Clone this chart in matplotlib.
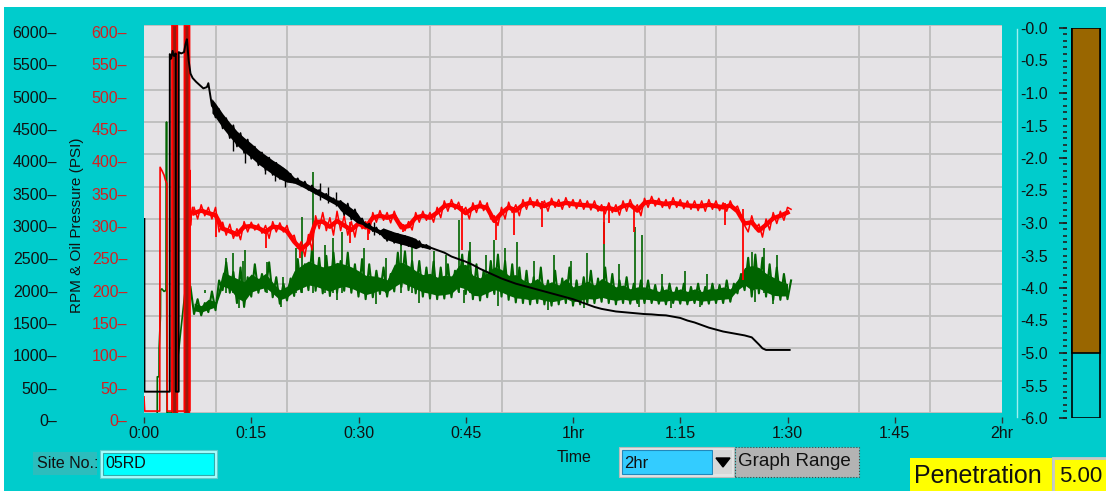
import matplotlib
matplotlib.use("Agg")
import matplotlib.pyplot as plt
from matplotlib.patches import Rectangle, Polygon
from matplotlib.lines import Line2D
from matplotlib.ticker import MultipleLocator
from matplotlib.transforms import ScaledTranslation

plt.rcParams['font.family'] = ['Liberation Sans', 'DejaVu Sans']

# ---------------- data ----------------
time_tick_min = [0, 15, 30, 45, 60, 75, 90, 105, 120]
time_tick_labels = ["0:00", "0:15", "0:30", "0:45", "1hr", "1:15", "1:30", "1:45", "2hr"]
rpm_ticks = [0, 500, 1000, 1500, 2000, 2500, 3000, 3500, 4000, 4500, 5000, 5500, 6000]
rpm_tick_labels = ["0", "500", "1000", "1500", "2000", "2500", "3000", "3500",
                   "4000", "4500", "5000", "5500", "6000"]
psi_ticks = [0, 50, 100, 150, 200, 250, 300, 350, 400, 450, 500, 550, 600]
psi_tick_labels = ["0", "50", "100", "150", "200", "250", "300", "350",
                   "400", "450", "500", "550", "600"]
depth_ticks = [0.0, -0.5, -1.0, -1.5, -2.0, -2.5, -3.0, -3.5, -4.0, -4.5, -5.0, -5.5, -6.0]
depth_tick_labels = ["-0.0", "-0.5", "-1.0", "-1.5", "-2.0", "-2.5", "-3.0", "-3.5",
                     "-4.0", "-4.5", "-5.0", "-5.5", "-6.0"]
depth_major = [0, -1, -2, -3, -4, -5, -6]
penetration = 5.00
site_no = "05RD"
graph_range = "2hr"

# ---- black trace (RPM scale), time in minutes
black_t = [0.05, 0.06, 3.6, 3.61, 3.8, 4.0, 4.2, 4.45, 4.46, 4.85, 4.86, 5.2, 5.6, 5.8,
           6.0, 6.1, 6.25, 6.5, 6.8, 7.3, 7.8, 8.3, 8.8, 9.0, 9.5,
           10, 11, 12, 13, 14, 15, 16, 17, 18, 19, 20, 21, 22, 23, 24, 25, 26, 27, 28,
           29, 30, 31, 32, 33, 34, 35, 36, 37, 38, 39, 40, 41, 42, 43, 44, 45, 46, 47,
           48, 49, 50, 51, 52, 53, 54, 55, 56, 57, 58, 59, 60, 61, 62, 63, 64, 65, 66,
           67, 68, 69, 70, 71, 72, 73, 74, 75, 76, 77, 78, 79, 80, 81, 82, 83, 84, 85,
           86, 86.5, 87, 90.3]
black_v = [3000, 330, 330, 5550, 5480, 5600, 5520, 5560, 330, 330, 5580, 5560, 5580, 5700,
           5780, 5650, 5450, 5250, 5180, 5120, 5070, 5020, 5040, 5100, 4750,
           4680, 4520, 4380, 4250, 4150, 4060, 3960, 3880, 3800, 3730, 3660, 3600, 3550,
           3490, 3430, 3370, 3310, 3250, 3170, 3090, 3000, 2910, 2850, 2800, 2760, 2720,
           2690, 2660, 2620, 2590, 2560, 2520, 2480, 2420, 2380, 2340, 2290, 2230, 2180,
           2130, 2080, 2040, 2000, 1970, 1940, 1910, 1880, 1850, 1820, 1790, 1760, 1720,
           1680, 1640, 1610, 1590, 1570, 1560, 1550, 1540, 1530, 1525, 1515, 1510, 1490,
           1470, 1430, 1400, 1360, 1320, 1290, 1260, 1240, 1220, 1200, 1170,
           1060, 1000, 975, 975]
# dense core of the noisy black section
black_band_t = [9.5, 10, 11, 12, 13, 14, 15, 16, 17, 18, 19, 20, 21, 22, 23, 24, 25, 26,
                27, 27.5, 28, 29, 29.8, 30.5, 31, 32, 33, 33.5, 34, 35, 36, 37, 38, 38.6,
                39, 40]
black_band_hi = [4860, 4790, 4630, 4490, 4360, 4260, 4170, 4070, 3990, 3910, 3840, 3760,
                 3645, 3595, 3535, 3475, 3415, 3355, 3295, 3290, 3250, 3170, 3100, 2985,
                 2945, 2885, 2835, 2860, 2840, 2800, 2770, 2740, 2700, 2630, 2620, 2590]
black_band_lo = [4640, 4570, 4410, 4270, 4140, 4040, 3950, 3850, 3770, 3690, 3620, 3570,
                 3555, 3505, 3445, 3385, 3325, 3265, 3205, 3130, 3090, 3010, 2940, 2915,
                 2875, 2815, 2765, 2700, 2680, 2640, 2610, 2580, 2540, 2570, 2560, 2530]
# noise excursions of black trace, sampled every 0.5 min from 9.5 min
black_noise_start, black_noise_step = 9.5, 0.5
black_noise_v = [4830, 4570, 4700, 4400, 4560, 4250, 4450, 4120, 4330, 4020,
                 4230, 3930, 4120, 3830, 4030, 3750, 3950, 3680, 3870, 3620,
                 3780, 3580, 3700, 3560, 3630, 3510, 3580, 3450, 3520, 3390,
                 3450, 3340, 3390, 3280, 3320, 3210, 3280, 3060, 3240, 2990,
                 3150, 2960, 3010, 2880, 2930, 2810, 2870, 2760, 2840, 2660,
                 2800, 2630, 2770, 2600, 2740, 2580, 2700, 2550, 2660, 2560,
                 2600, 2540]
black_spike_t = [12.5, 14.1, 16.9, 18.3, 19.7, 24.6, 25.8, 26.9, 32.2]
black_spike_lo = [4050, 3870, 3700, 3580, 3500, 3300, 3250, 3200, 2760]
black_spike_hi = [4400, 4150, 3950, 3850, 3750, 3560, 3500, 3420, 2960]

# ---- green trace (RPM scale)
green_early_t = [1.85, 1.86, 2.1, 2.11, 2.3, 2.32, 2.5, 2.8, 3.1, 3.15, 3.17, 3.22, 3.9,
                 6.35, 6.4]
green_early_v = [0, 560, 560, 1000, 1500, 1900, 1920, 1880, 1900, 4500, 1900, 0, 0,
                 2500, 1950]
# dense core of the green band, one value per minute from 7 min
green_core_start = 7
green_core_lo = [1580, 1560, 1600, 1640, 1960, 1920, 1780, 1720, 1870, 1910,
                 1940, 1850, 1750, 1790, 1880, 1930, 1980, 1960, 1920, 1880,
                 1930, 1960, 1930, 1880, 1830, 1860, 1900, 1870, 1950, 2020,
                 1970, 1920, 1870, 1850, 1820, 1830, 1850, 1950, 1920, 1820,
                 1810, 1860, 1910, 1870, 1820, 1780, 1770, 1750, 1770, 1740,
                 1720, 1740, 1770, 1720, 1740, 1770, 1760, 1790, 1760, 1740,
                 1760, 1740, 1760, 1760, 1750, 1730, 1730, 1750, 1740, 1730,
                 1750, 1730, 1740, 1750, 1760, 1770, 1900, 1980, 1900, 1930,
                 1870, 1820, 1810, 1810]
green_core_hi = [1700, 1660, 1760, 1720, 2180, 2130, 2080, 2030, 2150, 2080,
                 2160, 2020, 1900, 1960, 2200, 2280, 2350, 2300, 2260, 2280,
                 2330, 2300, 2260, 2200, 2130, 2120, 2100, 2060, 2300, 2330,
                 2280, 2200, 2140, 2160, 2100, 2130, 2120, 2280, 2300, 2130,
                 2090, 2170, 2260, 2220, 2130, 2140, 2060, 2010, 2080, 1980,
                 2030, 1980, 2080, 1950, 1980, 2040, 1980, 2080, 2020, 1950,
                 1980, 1920, 1950, 1950, 1920, 1880, 1920, 1880, 1920, 1880,
                 1920, 1880, 1920, 1920, 1950, 1920, 2060, 2250, 2280, 2250,
                 2160, 2100, 2040, 2000]
# noise excursions of green trace, sampled every 0.5 min from 6.5 min
green_start, green_step = 6.5, 0.5
green_v = [1950, 1530, 1760, 1510, 1700, 1560, 1880, 1590, 2050, 1900,
           2330, 1860, 2180, 1700, 2250, 1640, 2100, 1800, 2300, 1860,
           2150, 1880, 2330, 1790, 2100, 1690, 2000, 1740, 2080, 1810,
           2380, 1870, 2300, 1900, 2550, 1890, 2400, 1850, 2430, 1810,
           2480, 1860, 2350, 1890, 2480, 1860, 2300, 1800, 2380, 1760,
           2300, 1790, 2200, 1840, 2250, 1800, 2150, 1880, 2480, 1950,
           2500, 1900, 2350, 1850, 2350, 1800, 2250, 1770, 2340, 1760,
           2250, 1770, 2300, 1790, 2200, 1880, 2450, 1840, 2500, 1760,
           2300, 1740, 2200, 1790, 2350, 1840, 2450, 1800, 2350, 1750,
           2300, 1710, 2250, 1700, 2200, 1680, 2100, 1700, 2250, 1680,
           2050, 1660, 2200, 1680, 2080, 1700, 2250, 1660, 2050, 1680,
           2100, 1700, 2200, 1700, 2080, 1720, 2250, 1700, 2150, 1680,
           2050, 1700, 2100, 1690, 2000, 1700, 2050, 1700, 2050, 1700,
           1980, 1690, 1950, 1680, 2000, 1700, 1940, 1690, 2000, 1680,
           1950, 1700, 2000, 1680, 1950, 1690, 2000, 1700, 1980, 1700,
           2050, 1720, 2000, 1850, 2150, 1900, 2400, 1800, 2450, 1850,
           2400, 1800, 2300, 1750, 2250, 1750, 2150, 1760, 2050]
green_spike_t = [8.6, 11.4, 12.4, 13.8, 14.1, 17.2, 19.5, 21.3, 22.1, 23.6, 25.3, 26.5,
                 27.7, 30.7, 33.8, 36.0, 37.5, 40.6, 42.3, 44.0, 45.6, 47.8, 49.0, 50.5,
                 52.2, 54.5, 57.3, 59.7, 62.0, 64.3, 66.5, 68.7, 69.6, 72.5, 75.6, 78.8,
                 85.0, 86.7, 88.6]
green_spike_hi = [1900, 2400, 2470, 2350, 2520, 2330, 2100, 2550, 3030, 3720, 2600, 2700,
                  2800, 2550, 2400, 2630, 2600, 2500, 2450, 2980, 2650, 2450, 2670, 2550,
                  2650, 2350, 2450, 2350, 2470, 2950, 2300, 2880, 2750, 2150, 2200, 2150,
                  2490, 2550, 2450]
green_dip_t = [13.3, 19.2, 27.0, 32.5, 38.4, 44.8, 49.5, 56.5, 61.5, 69.3, 73.7, 77.8,
               85.4, 88.0]
green_dip_lo = [1620, 1640, 1750, 1680, 1700, 1700, 1650, 1600, 1620, 1640, 1630, 1640,
                1720, 1680]

# ---- red trace (oil pressure, PSI)
red_early_t = [0.0, 0.1, 2.2, 2.25, 2.5, 2.8, 3.0, 3.2, 3.25, 3.9, 3.92, 4.6, 4.62, 5.65,
               5.67, 6.35, 6.37, 6.42, 6.5, 6.6, 6.8, 7.0]
red_early_v = [25, 3, 3, 380, 375, 368, 360, 355, 3, 3, 640, 640, 3, 3, 640, 640, 3, 375,
               290, 305, 318, 309]
# central level, one value per minute from 7 min
red_mid_start = 7
red_mid = [309, 313, 309, 306, 285, 281, 276, 288, 289, 286,
           280, 288, 287, 281, 265, 253, 263, 295, 296, 288,
           297, 290, 283, 293, 287, 302, 305, 302, 305, 287,
           289, 302, 305, 302, 310, 320, 322, 318, 309, 317,
           320, 317, 297, 309, 318, 313, 322, 325, 323, 320,
           325, 322, 325, 323, 322, 321, 320, 315, 317, 314,
           320, 322, 313, 325, 327, 325, 323, 325, 323, 321,
           320, 320, 322, 320, 318, 321, 312, 293, 295, 282,
           291, 301, 305, 310]
# noise excursions, sampled every 0.5 min from 7 min
red_start, red_step = 7.0, 0.5
red_v = [318, 300, 322, 305, 318, 300, 318, 280, 295, 275,
         292, 270, 285, 268, 296, 280, 295, 283, 292, 278,
         290, 270, 296, 280, 294, 280, 290, 270, 275, 255,
         265, 242, 276, 252, 305, 285, 310, 282, 302, 275,
         312, 282, 305, 275, 296, 272, 302, 285, 296, 278,
         310, 295, 313, 298, 310, 294, 312, 296, 293, 282,
         296, 283, 310, 295, 312, 298, 310, 295, 318, 302,
         328, 312, 330, 315, 326, 310, 318, 300, 325, 310,
         328, 313, 325, 300, 305, 290, 318, 300, 326, 310,
         322, 305, 330, 315, 333, 318, 330, 316, 328, 312,
         332, 318, 330, 315, 333, 318, 330, 316, 330, 315,
         328, 314, 328, 312, 322, 308, 325, 310, 322, 306,
         328, 312, 330, 315, 322, 305, 332, 318, 335, 320,
         332, 318, 330, 316, 333, 318, 330, 316, 328, 315,
         328, 313, 328, 312, 330, 315, 328, 313, 325, 312,
         328, 315, 320, 305, 290, 280, 305, 285, 292, 272,
         300, 283, 310, 293, 312, 298, 318, 315]
red_dip_t = [10.1, 17.1, 21.8, 28.8, 31.3, 36.2, 44.5, 49.3, 51.7, 55.7, 64.3, 65.1,
             68.5, 81.3, 83.8]
red_dip_lo = [272, 255, 240, 263, 268, 280, 252, 267, 275, 288, 262, 294, 280, 290, 205]
red_dip_hi = [310, 285, 262, 296, 292, 292, 320, 300, 318, 328, 320, 325, 320, 325, 315]
dark_band_start = [3.9, 5.65]
dark_band_end = [4.6, 6.35]

black_noise_t = [black_noise_start + black_noise_step * i for i in range(len(black_noise_v))]
green_t = [green_start + green_step * i for i in range(len(green_v))]
green_core_t = [green_core_start + i for i in range(len(green_core_lo))]
red_t = [red_start + red_step * i for i in range(len(red_v))]
red_mid_t = [red_mid_start + i for i in range(len(red_mid))]

# ---------------- figure ----------------
W, H = 1106, 491
TEAL = '#00CCCC'
fig = plt.figure(figsize=(W / 100, H / 100), dpi=100)
fig.patch.set_facecolor(TEAL)


def rect(x0, y0, x1, y1, **kw):
    r = Rectangle((x0 / W, 1 - y1 / H), (x1 - x0) / W, (y1 - y0) / H,
                  transform=fig.transFigure, **kw)
    fig.add_artist(r)
    return r


def ptext(x, y, s, **kw):
    return fig.text(x / W, 1 - y / H, s, **kw)


def pline(xs, ys, **kw):
    fig.add_artist(Line2D([x / W for x in xs], [1 - y / H for y in ys],
                          transform=fig.transFigure, **kw))


rect(0, 0, W, 7, facecolor='white', edgecolor='none', zorder=0)
rect(0, 0, 4, H, facecolor='white', edgecolor='none', zorder=0)

FS = 11.5
PLOT_BG = '#E5E3E6'
GRID = '#BDBDBD'

ax = fig.add_axes([144 / W, 1 - 413 / H, 858 / W, 388 / H])
ax.set_facecolor(PLOT_BG)
ax.set_xlim(0, 120)
ax.set_ylim(0, 6000)
for s in ax.spines.values():
    s.set_visible(False)
ax.spines['bottom'].set_position(('outward', 3))
ax.set_xticks(time_tick_min)
ax.set_xticklabels(time_tick_labels, fontsize=FS, color='#111111')
ax.set_xticks(list(range(0, 121, 10)), minor=True)
ax.tick_params(axis='x', which='major', length=4.5, width=1, color='#333333', pad=2)
ax.tick_params(axis='x', which='minor', length=0)
ax.set_yticks(rpm_ticks)
ax.set_yticklabels([lab + "\u2013" for lab in rpm_tick_labels], fontsize=FS, color='#111111')
ax.tick_params(axis='y', length=0, pad=62.5)
ax.set_axisbelow(True)
ax.grid(True, which='major', axis='y', color=GRID, lw=1.3)
ax.grid(True, which='minor', axis='x', color=GRID, lw=1.3)
down = ScaledTranslation(0, -7 / 100, fig.dpi_scale_trans)
for lbl in ax.get_yticklabels():
    lbl.set_transform(lbl.get_transform() + down)

GREEN = '#006400'
ax.plot(green_early_t, green_early_v, color=GREEN, lw=1.2)
ax.fill_between(green_core_t, green_core_lo, green_core_hi, color=GREEN, lw=0)
ax.plot(green_t, green_v, color=GREEN, lw=1.5)
ax.vlines(green_spike_t, [1850] * len(green_spike_t), green_spike_hi, color=GREEN, lw=1.2)
ax.vlines(green_dip_t, green_dip_lo, [1900] * len(green_dip_t), color=GREEN, lw=1.2)

# red axis
ax2 = ax.twinx()
ax2.set_ylim(0, 600)
ax2.yaxis.tick_left()
for s in ax2.spines.values():
    s.set_visible(False)
ax2.set_yticks(psi_ticks)
ax2.set_yticklabels([lab + "\u2013" for lab in psi_tick_labels], fontsize=FS, color='#D42020')
ax2.tick_params(axis='y', length=0, pad=12)
for lbl in ax2.get_yticklabels():
    lbl.set_transform(lbl.get_transform() + down)

RED = '#FF0000'
for s0, s1 in zip(dark_band_start, dark_band_end):
    ax2.axvspan(s0, s1, facecolor='#9A1A0E', edgecolor=RED, lw=1)
ax2.plot(red_early_t, red_early_v, color=RED, lw=1.2)
ax2.plot(red_mid_t, red_mid, color=RED, lw=3.2)
ax2.plot(red_t, red_v, color=RED, lw=1.1)
ax2.vlines(red_dip_t, red_dip_lo, red_dip_hi, color=RED, lw=1.3)

# black axis
ax3 = ax.twinx()
ax3.set_ylim(0, 6000)
ax3.yaxis.set_visible(False)
for s in ax3.spines.values():
    s.set_visible(False)
ax3.plot(black_t, black_v, color='black', lw=1.4)
ax3.fill_between(black_band_t, black_band_lo, black_band_hi, color='black', lw=0)
ax3.plot(black_noise_t, black_noise_v, color='black', lw=1.2)
ax3.vlines(black_spike_t, black_spike_lo, black_spike_hi, color='black', lw=1)

fig.text(77 / W, 1 - 225 / H, "RPM & Oil Pressure (PSI)", rotation=90, ha='center',
         va='center', fontsize=11, color='#111111')

# ---------------- penetration gauge ----------------
gax = fig.add_axes([1067 / W, 1 - 418 / H, 34 / W, 390 / H])
gax.set_facecolor('none')
gax.set_xlim(0, 1)
gax.set_ylim(-6, 0)
for s in gax.spines.values():
    s.set_visible(False)
gax.set_xticks([])
gax.set_yticks(depth_ticks)
gax.set_yticklabels(depth_tick_labels, fontsize=FS, color='#111111')
gax.yaxis.set_minor_locator(MultipleLocator(0.1))
gax.tick_params(axis='y', which='both', length=3, width=1.2, color='#222222', pad=11)
gax.hlines(depth_major, -8 / 34, 0, color='#222222', lw=1.2, clip_on=False)
gax.bar([0.56], [-6], width=0.82, bottom=0, facecolor=TEAL, edgecolor='black', lw=1.2)
gax.bar([0.56], [-penetration], width=0.82, bottom=0, facecolor='#996600',
        edgecolor='black', lw=1.2)
pline([1017, 1017], [29, 417], color='#9EEFEF', lw=1)

# ---------------- bottom widgets ----------------
rect(33, 452, 97, 475, facecolor='#2CBDBD', edgecolor='none')
ptext(37, 464, "Site No.:", fontsize=11.5, va='center', ha='left', color='#111111')
rect(100, 450, 217, 478, facecolor='#A8FFFF', edgecolor='#66CCCC', lw=0.8)
rect(103, 453, 214, 475, facecolor='#00FFFF', edgecolor='#33AAAA', lw=0.8)
ptext(105, 464, site_no, fontsize=11.5, va='center', ha='left', color='#111111')

ptext(574, 457, "Time", fontsize=11.5, va='center', ha='center', color='#111111')
rect(619, 447, 734, 477, facecolor='#E4E4E4', edgecolor='#BBBBBB', lw=0.8)
rect(622, 450, 712, 474, facecolor='#33CCFF', edgecolor='#2288BB', lw=0.8)
rect(713, 450, 732, 474, facecolor='#D8D8D8', edgecolor='none')
fig.add_artist(Polygon([(716 / W, 1 - 458 / H), (730 / W, 1 - 458 / H),
                        (723 / W, 1 - 467 / H)], closed=True, transform=fig.transFigure,
                       facecolor='black', edgecolor='black'))
ptext(624, 463, graph_range, fontsize=12, va='center', ha='left', color='#111111')
rect(735, 447, 859, 477, facecolor='#B3B3B3', edgecolor='#444444', lw=0.8, ls=':')
ptext(738, 461, "Graph Range", fontsize=13.5, va='center', ha='left', color='#111111')

rect(910, 458, 1052, 492, facecolor='#FFFF00', edgecolor='none')
ptext(914, 476, "Penetration", fontsize=18, va='center', ha='left', color='#111111')
rect(1053, 458, 1110, 492, facecolor='#FFFF00', edgecolor='#C8C8C8', lw=2)
ptext(1059, 477, f"{penetration:.2f}", fontsize=16, va='center', ha='left', color='#111111')

fig.savefig("out.png", dpi=100, facecolor=fig.get_facecolor())
